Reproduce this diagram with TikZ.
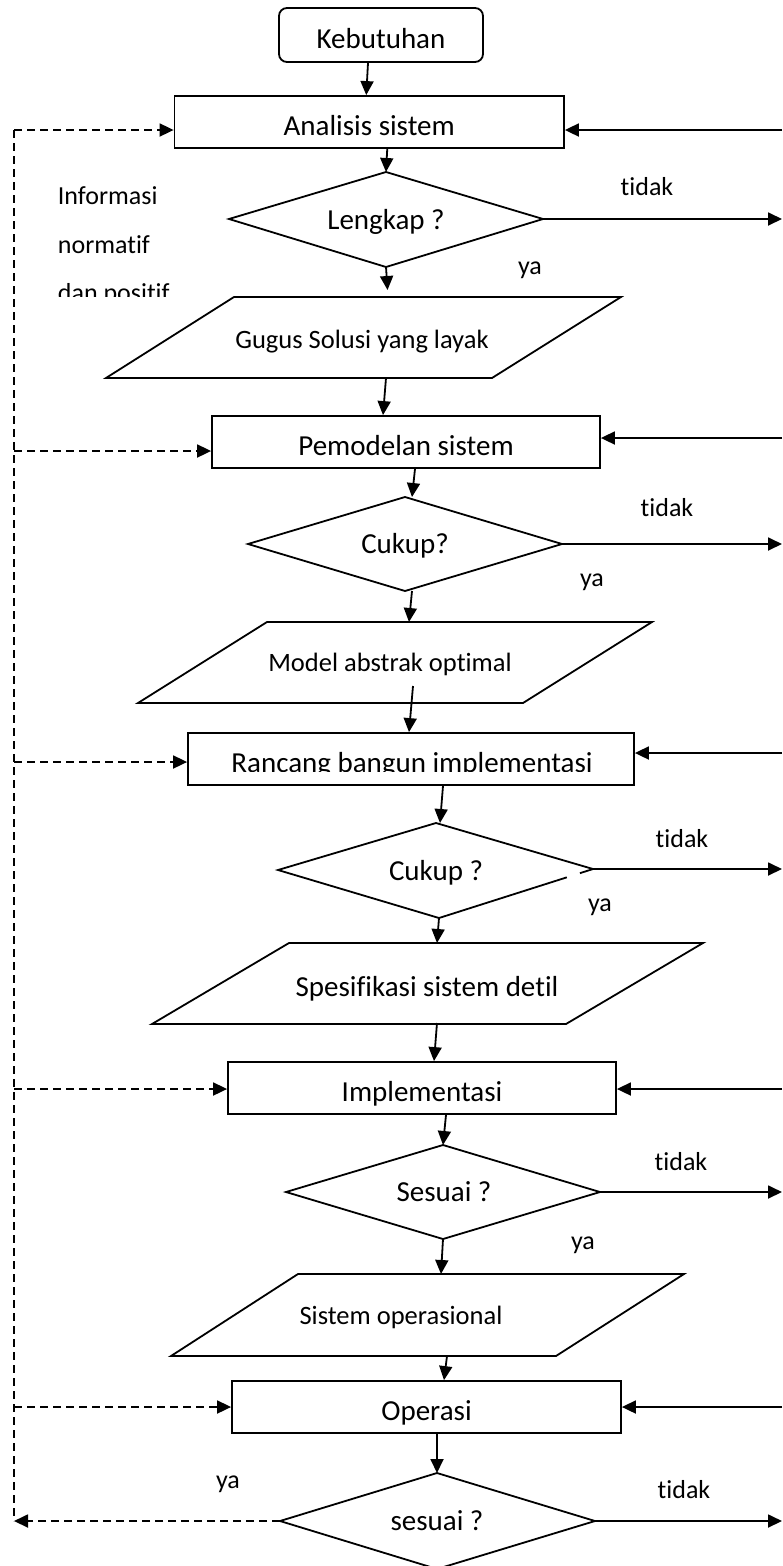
\documentclass[tikz,border=0pt]{standalone}
\usepackage{fontspec}
\setmainfont[Ligatures=NoCommon]{Carlito}
\usetikzlibrary{arrows.meta,calc}
\begin{document}
\begin{tikzpicture}[x=1pt,y=-1pt,
  line width=1.8pt,
  box/.style={draw, rectangle, inner sep=0pt, font=\fontsize{29}{35}\selectfont, text height=26pt, text depth=0pt},
  big/.style={font=\fontsize{29}{35}\selectfont, inner sep=0pt, text height=18.6pt, text depth=0pt},
  small/.style={font=\fontsize{26.5}{32}\selectfont, inner sep=0pt, text height=17pt, text depth=0pt},
  lbl/.style={font=\fontsize{26}{31}\selectfont, inner sep=0pt, anchor=base},
  arr/.style={-{Triangle[length=14pt,width=13pt]}},
  dsh/.style={dash pattern=on 8pt off 5pt},
]
\useasboundingbox (0,0) rectangle (782,1566);

% ---------- boxes ----------
\node[box, rounded corners=8pt, minimum width=204pt, minimum height=54pt] (kb) at (381,35) {Kebutuhan};
\node[box, minimum width=389.5pt, minimum height=52pt] (an) at (369.25,122) {Analisis sistem};
\node[box, minimum width=388pt, minimum height=52pt] (pm) at (406,442) {Pemodelan sistem};
\node[box, minimum width=446pt, minimum height=52pt] (rb) at (411,759) {};
\begin{scope}
  \clip (150,700) rectangle (700,771);
  \node[big] (rbt) at (412,763) {Rancang bangun implementasi};
\end{scope}
\node[box, minimum width=388pt, minimum height=52pt] (im) at (422,1088) {Implementasi};
\node[box, minimum width=389pt, minimum height=52pt] (op) at (426.5,1407) {Operasi};

% ---------- diamonds ----------
\coordinate (d1l) at (229,219); \coordinate (d1t) at (386,172);
\coordinate (d1r) at (543,219); \coordinate (d1b) at (386,267);
\draw (d1l) -- (d1t) -- (d1r) -- (d1b) -- cycle;
\node[big] (d1) at (386,220.5) {Lengkap ?};

\coordinate (d2l) at (248,544); \coordinate (d2t) at (405,497);
\coordinate (d2r) at (562,544); \coordinate (d2b) at (405,591);
\draw (d2l) -- (d2t) -- (d2r) -- (d2b) -- cycle;
\node[big] (d2) at (405,544) {Cukup?};

\coordinate (d3l) at (278,870); \coordinate (d3t) at (436,823);
\coordinate (d3r) at (593,869); \coordinate (d3b) at (439,918);
\draw ($(d3b)!0.83!(d3r)$) -- (d3b) -- (d3l) -- (d3t) -- (d3r) -- ($(d3r)!0.085!(d3b)$);
\node[big] (d3) at (436,871) {Cukup ?};

\coordinate (d4l) at (286,1192); \coordinate (d4t) at (443,1145);
\coordinate (d4r) at (600,1192); \coordinate (d4b) at (443,1239);
\draw (d4l) -- (d4t) -- (d4r) -- (d4b) -- cycle;
\node[big] (d4) at (444,1192) {Sesuai ?};

\coordinate (d5l) at (280,1521); \coordinate (d5t) at (437,1473);
\coordinate (d5r) at (595,1521); \coordinate (d5b) at (437,1569);
\draw (d5l) -- (d5t) -- (d5r) -- (d5b) -- cycle;
\node[big] (d5) at (437,1521) {sesuai ?};

% ---------- parallelograms ----------
\draw (234,297) -- (621,297) -- (492,378) -- (106,378) -- cycle;
\node[small] (p1) at (362,340) {Gugus Solusi yang layak};
\coordinate (p1t) at (388,297); \coordinate (p1b) at (386,378);

\draw (267,622) -- (652,622) -- (523,703) -- (138,703) -- cycle;
\node[small] (p2) at (390,663) {Model abstrak optimal};
\coordinate (p2t) at (409,622); \coordinate (p2b) at (413,686);

\draw (289,943) -- (703,943) -- (566,1024) -- (152,1024) -- cycle;
\node[big] (p3) at (427,987) {Spesifikasi sistem detil};
\coordinate (p3t) at (437,943); \coordinate (p3b) at (437,1023);

\draw (298,1274) -- (684,1274) -- (556,1356) -- (171,1356) -- cycle;
\node[small] (p4) at (401,1316) {Sistem operasional};
\coordinate (p4t) at (441,1274); \coordinate (p4b) at (447,1356);

% ---------- vertical flow arrows ----------
\draw[arr] ([xshift=-13pt]kb.south) -- ([xshift=-3pt]an.north);
\draw[arr] ([xshift=18pt]an.south) -- (d1t);
\draw[arr, shorten >=7pt] (d1b) -- (p1t);
\draw[arr] (p1b) -- ([xshift=-23pt]pm.north);
\draw[arr] ([xshift=9pt]pm.south) -- ([xshift=7pt]d2t);
\draw[arr] ([xshift=7pt]d2b) -- (p2t);
\draw[arr] (p2b) -- ([xshift=-2pt]rb.north);
\draw[arr] ([xshift=32pt]rb.south) -- ([xshift=4pt]d3t);
\draw[arr] (d3b) -- (p3t);
\draw[arr] (p3b) -- ([xshift=12pt]im.north);
\draw[arr] ([xshift=24pt]im.south) -- (d4t);
\draw[arr] (d4b) -- (p4t);
\draw[arr] (p4b) -- ([xshift=17.5pt]op.north);
\draw[arr] ([xshift=10.5pt]op.south) -- (d5t);

% ---------- left dashed feedback ----------
\coordinate (L0) at (14,130);
\coordinate (L1) at (14,451);
\coordinate (L2) at (14,762);
\coordinate (L3) at (14,1089);
\coordinate (L4) at (14,1407);
\coordinate (L5) at (14,1521);
\draw[dsh] (L0) -- (L5);
\draw[dsh, arr] (L0) -- (an.west |- L0);
\draw[dsh, arr] (L1) -- (pm.west |- L1);
\draw[dsh, arr] (L2) -- (rb.west |- L2);
\draw[dsh, arr] (L3) -- (im.west |- L3);
\draw[dsh, arr] (L4) -- (op.west |- L4);
\draw[dsh, arr] (d5l) -- (L5);

% ---------- right arrows ----------
\coordinate (R0) at (782,130);
\coordinate (R1) at (782,438);
\coordinate (R2) at (782,753);
\coordinate (R3) at (782,1089);
\coordinate (R4) at (782,1407);
\draw[arr] (R0) -- (an.east |- R0);
\draw[arr] (R1) -- (pm.east |- R1);
\draw[arr] (R2) -- (rb.east |- R2);
\draw[arr] (R3) -- (im.east |- R3);
\draw[arr] (R4) -- (op.east |- R4);

\coordinate (T1) at (782,219);
\coordinate (T2) at (782,544);
\coordinate (T3) at (782,869);
\coordinate (T4) at (782,1192);
\coordinate (T5) at (782,1521);
\draw[arr] (d1r) -- (T1);
\draw[arr] (d2r) -- (T2);
\draw[arr] (d3r) -- (T3);
\draw[arr] (d4r) -- (T4);
\draw[arr] (d5r) -- (T5);

% ---------- labels ----------
\node[lbl] (t1) at (647,195) {tidak};
\node[lbl] (t2) at (667,516) {tidak};
\node[lbl] (t3) at (682,847) {tidak};
\node[lbl] (t4) at (681,1170) {tidak};
\node[lbl] (t5) at (684,1498) {tidak};
\node[lbl] (y1) at (530,274) {ya};
\node[lbl] (y2) at (592,586) {ya};
\node[lbl] (y3) at (600,911) {ya};
\node[lbl] (y4) at (583,1249) {ya};
\node[lbl] (y5) at (228,1488) {ya};

\node[lbl, anchor=base west] (i1) at (57,204) {Informasi};
\node[lbl, anchor=base west] (i2) at (57,253) {normatif};
\begin{scope}
  \clip (40,260) rectangle (220,296);
  \node[lbl, anchor=base west] (i3) at (57,301) {dan positif};
\end{scope}
\end{tikzpicture}
\end{document}
